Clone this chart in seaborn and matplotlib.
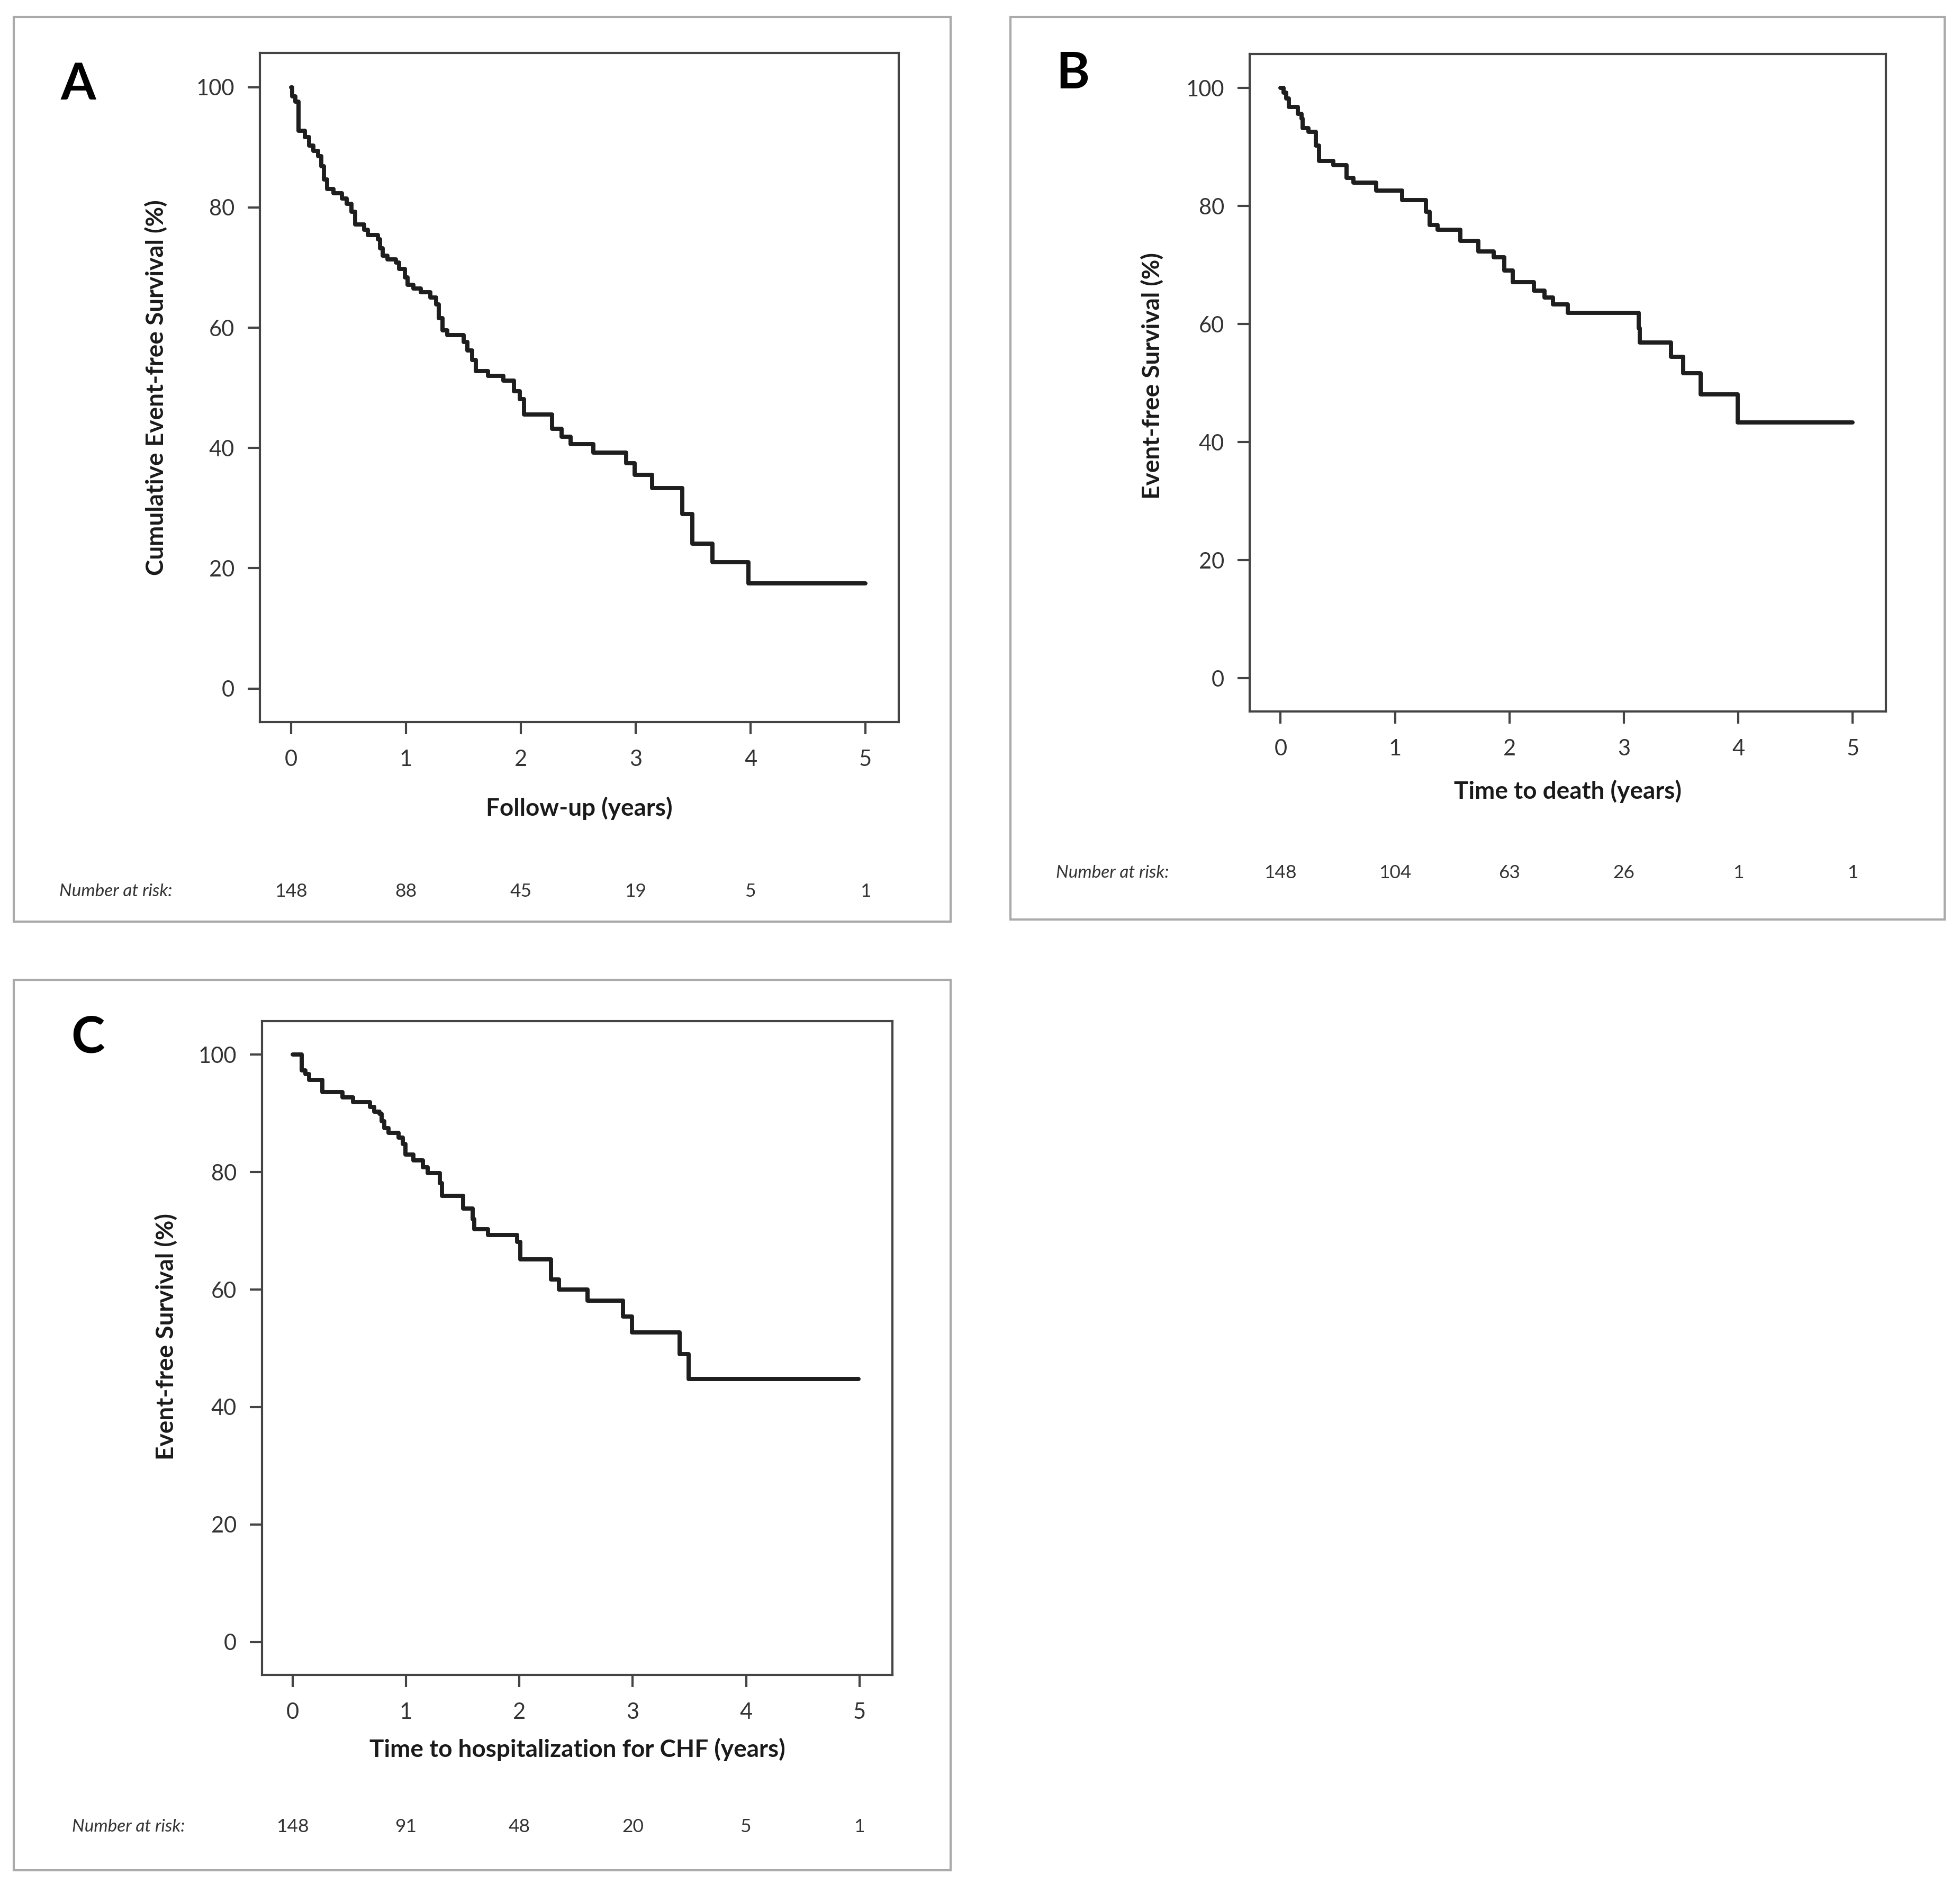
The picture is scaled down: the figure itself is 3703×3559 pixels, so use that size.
import matplotlib
matplotlib.use("Agg")
import matplotlib.pyplot as plt
import matplotlib.transforms as mtransforms
from matplotlib.patches import Rectangle
import pandas as pd
import seaborn as sns

# Kaplan-Meier step points (time in years, survival in %)
a_time = [0, 0.010, 0.040, 0.068, 0.123, 0.156, 0.197, 0.238, 0.263, 0.288, 0.313,
          0.370, 0.445, 0.486, 0.527, 0.560, 0.635, 0.668, 0.759, 0.775, 0.800,
          0.841, 0.915, 0.940, 0.990, 1.014, 1.064, 1.130, 1.213, 1.262, 1.287,
          1.320, 1.361, 1.502, 1.535, 1.576, 1.609, 1.717, 1.849, 1.940, 1.992,
          2.030, 2.274, 2.357, 2.435, 2.631, 2.916, 2.992, 3.141, 3.405, 3.494,
          3.667, 3.983, 5.0]
a_surv = [100, 98.5, 97.6, 92.8, 91.7, 90.3, 89.4, 88.5, 86.9, 84.7, 83.1,
          82.4, 81.5, 80.6, 79.3, 77.2, 76.3, 75.4, 74.7, 73.2, 72.0,
          71.4, 70.8, 69.8, 68.4, 67.1, 66.5, 65.9, 65.0, 63.9, 61.6,
          59.6, 58.8, 57.6, 56.2, 54.6, 52.8, 52.0, 51.2, 49.4, 48.1,
          45.6, 43.2, 41.9, 40.6, 39.2, 37.5, 35.5, 33.3, 29.0, 24.1,
          21.0, 17.5, 17.5]

b_time = [0, 0.026, 0.047, 0.074, 0.150, 0.181, 0.192, 0.244, 0.306, 0.337,
          0.461, 0.575, 0.637, 0.835, 1.063, 1.270, 1.301, 1.374, 1.571, 1.726,
          1.861, 1.954, 2.027, 2.213, 2.307, 2.379, 2.510, 3.132, 3.140, 3.412,
          3.516, 3.671, 3.993, 5.0]
b_surv = [100, 99.2, 98.2, 96.8, 95.6, 94.8, 93.2, 92.6, 90.2, 87.6,
          86.9, 84.8, 84.0, 82.6, 81.0, 79.0, 76.8, 76.0, 74.1, 72.3,
          71.3, 69.1, 67.1, 65.7, 64.5, 63.3, 61.9, 59.3, 56.9, 54.5,
          51.7, 48.1, 43.3, 43.3]

c_time = [0, 0.078, 0.113, 0.145, 0.260, 0.438, 0.532, 0.680, 0.720, 0.764,
          0.783, 0.810, 0.846, 0.935, 0.971, 0.993, 1.065, 1.150, 1.191, 1.296,
          1.317, 1.505, 1.589, 1.600, 1.725, 1.980, 2.007, 2.279, 2.350, 2.601,
          2.915, 2.995, 3.411, 3.491, 4.99]
c_surv = [100, 97.3, 96.7, 95.7, 93.6, 92.7, 91.9, 91.1, 90.3, 89.9,
          88.7, 87.5, 86.7, 85.9, 84.8, 83.0, 82.0, 80.8, 79.8, 78.1,
          76.0, 73.8, 72.0, 70.3, 69.3, 68.1, 65.1, 61.7, 60.0, 58.1,
          55.4, 52.7, 49.0, 44.8, 44.8]

x_ticks = [0, 1, 2, 3, 4, 5]
y_ticks = [0, 20, 40, 60, 80, 100]

a_risk = ["148", "88", "45", "19", "5", "1"]
b_risk = ["148", "104", "63", "26", "1", "1"]
c_risk = ["148", "91", "48", "20", "5", "1"]

panel_letters = ["A", "B", "C"]
x_labels = ["Follow-up (years)", "Time to death (years)",
            "Time to hospitalization for CHF (years)"]
y_labels = ["Cumulative Event-free Survival (%)", "Event-free Survival (%)",
            "Event-free Survival (%)"]

sns.set_theme(style="white")
plt.rcParams["font.family"] = ["Lato", "DejaVu Sans"]

W, H = 3703, 3559
fig = plt.figure(figsize=(W / 300, H / 300), dpi=300)
fig.patch.set_facecolor("white")

# layout (figure fractions): axes rect, outer frame, letter, xlabel y, ylabel x, risk row
panels = [
    dict(ax=[0.1326, 0.6167, 0.3260, 0.3552], box=[0.0070, 0.5108, 0.4780, 0.4802],
         letter=(0.0400, 0.9550), xl=-0.129, yl=(-0.162, 0.5),
         risk_label=(0.0303, 0.5268)),
    dict(ax=[0.6376, 0.6224, 0.3246, 0.3488], box=[0.5155, 0.5119, 0.4766, 0.4791],
         letter=(0.5474, 0.9609), xl=-0.122, yl=(-0.153, 0.511),
         risk_label=(0.5387, 0.5367)),
    dict(ax=[0.1337, 0.1110, 0.3216, 0.3470], box=[0.0070, 0.0073, 0.4780, 0.4726],
         letter=(0.0448, 0.4490), xl=-0.114, yl=(-0.152, 0.517),
         risk_label=(0.0367, 0.0303)),
]
curves = [(a_time, a_surv), (b_time, b_surv), (c_time, c_surv)]
risks = [a_risk, b_risk, c_risk]

spine_col = "#444444"
text_col = "#333333"

for i, p in enumerate(panels):
    fig.add_artist(Rectangle((p["box"][0], p["box"][1]), p["box"][2], p["box"][3],
                             transform=fig.transFigure, fill=False,
                             edgecolor="#aaaaaa", linewidth=1.0))

    ax = fig.add_axes(p["ax"])
    df = pd.DataFrame({"time": curves[i][0], "surv": curves[i][1]})
    sns.lineplot(data=df, x="time", y="surv", ax=ax, estimator=None,
                 drawstyle="steps-post", color="#1e1e1e", linewidth=1.9)

    ax.set_xlim(-0.27, 5.29)
    ax.set_ylim(-5.6, 105.7)
    ax.set_xticks(x_ticks)
    ax.set_yticks(y_ticks)
    ax.tick_params(axis="both", direction="out", length=5.5, width=1.0,
                   color=spine_col, labelsize=10, labelcolor=text_col,
                   bottom=True, left=True)
    ax.tick_params(axis="x", pad=7)
    ax.tick_params(axis="y", pad=6)
    for s in ax.spines.values():
        s.set_color(spine_col)
        s.set_linewidth(1.0)

    ax.set_xlabel(x_labels[i], fontsize=11, fontweight="bold", color="#1a1a1a")
    ax.xaxis.label.set_va("center")
    ax.xaxis.set_label_coords(0.5, p["xl"])
    ax.set_ylabel(y_labels[i], fontsize=11, fontweight="bold", color="#1a1a1a")
    ax.yaxis.label.set_va("center")
    ax.yaxis.set_label_coords(p["yl"][0], p["yl"][1])

    fig.text(p["letter"][0], p["letter"][1], panel_letters[i], fontsize=23,
             fontweight="bold", ha="center", va="center", color="black")

    # number at risk row
    fig.text(p["risk_label"][0], p["risk_label"][1], "Number at risk:",
             fontsize=8, style="italic", ha="left", va="center", color=text_col)
    trans = mtransforms.blended_transform_factory(ax.transData, fig.transFigure)
    for xt, n in zip(x_ticks, risks[i]):
        ax.text(xt, p["risk_label"][1], n, transform=trans, fontsize=8.5,
                ha="center", va="center", color=text_col, clip_on=False)

fig.savefig("out.png", dpi=300, facecolor="white")
